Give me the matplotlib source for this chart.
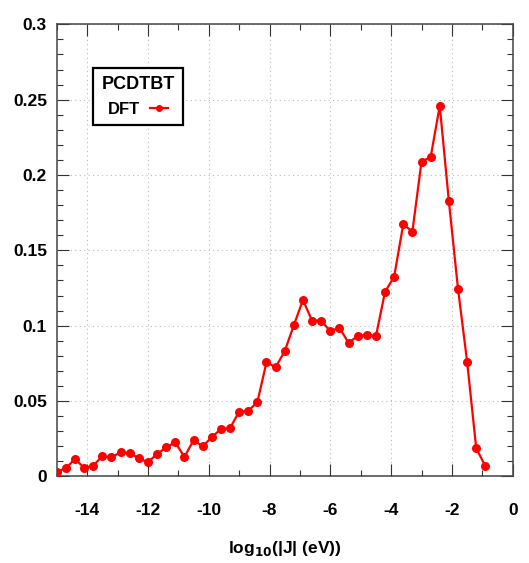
import matplotlib
matplotlib.use("Agg")
import matplotlib.pyplot as plt
from matplotlib.ticker import MultipleLocator

plt.rcParams['font.family'] = ['Liberation Sans Narrow', 'Liberation Sans', 'DejaVu Sans']
plt.rcParams['font.weight'] = 'bold'
plt.rcParams['mathtext.default'] = 'bf'

# log10 coupling bins and DFT distribution
log_j = [-15.0, -14.7, -14.4, -14.1, -13.8, -13.5, -13.2, -12.9, -12.6, -12.3,
         -12.0, -11.7, -11.4, -11.1, -10.8, -10.5, -10.2, -9.9, -9.6, -9.3,
         -9.0, -8.7, -8.4, -8.1, -7.8, -7.5, -7.2, -6.9, -6.6, -6.3,
         -6.0, -5.7, -5.4, -5.1, -4.8, -4.5, -4.2, -3.9, -3.6, -3.3,
         -3.0, -2.7, -2.4, -2.1, -1.8, -1.5, -1.2, -0.9]
dft = [0.0030, 0.0053, 0.0115, 0.0057, 0.0070, 0.0134, 0.0125, 0.0160, 0.0154, 0.0120,
       0.0093, 0.0148, 0.0192, 0.0226, 0.0128, 0.0239, 0.0199, 0.0259, 0.0314, 0.0319,
       0.0429, 0.0435, 0.0491, 0.0757, 0.0724, 0.0830, 0.1003, 0.1170, 0.1033, 0.1033,
       0.0963, 0.0987, 0.0885, 0.0932, 0.0938, 0.0930, 0.1224, 0.1325, 0.1673, 0.1624,
       0.2089, 0.2118, 0.2459, 0.1826, 0.1246, 0.0761, 0.0186, 0.0068]

fig = plt.figure(figsize=(5.29, 5.63), dpi=100)
ax = fig.add_axes([0.1072, 0.1540, 0.8620, 0.8028])

ax.plot(log_j, dft, color='#ff0000', lw=1.6, marker='o', ms=6.5,
        markeredgewidth=0, label='DFT', zorder=3)

ax.set_xlim(-15, 0)
ax.set_ylim(0, 0.3)
ax.xaxis.set_minor_locator(MultipleLocator(1))
ax.yaxis.set_minor_locator(MultipleLocator(0.01))
ax.set_yticks([0, 0.05, 0.1, 0.15, 0.2, 0.25, 0.3])
ax.set_yticklabels(['0', '0.05', '0.1', '0.15', '0.2', '0.25', '0.3'])
ax.set_xticks([-14, -12, -10, -8, -6, -4, -2, 0])
ax.set_xticklabels(['-14', '-12', '-10', '-8', '-6', '-4', '-2', '0'])

ax.tick_params(which='both', direction='in', top=True, right=True,
               color='#333333', width=0.8, labelsize=12.5)
ax.tick_params(which='major', length=8.6)
ax.tick_params(which='minor', length=4.3)
ax.tick_params(axis='x', pad=19)
ax.tick_params(axis='y', pad=7)
for s in ax.spines.values():
    s.set_color('#444444')
    s.set_linewidth(1.1)

ax.grid(True, which='major', color='#bbbbbb', linestyle=(0, (1, 3)), lw=0.8)

ax.set_xlabel('log$_{10}$(|J| (eV))', fontsize=12.5, fontweight='bold', labelpad=15)

leg = ax.legend(title='PCDTBT', loc='upper left', bbox_to_anchor=(0.080, 0.903),
                borderaxespad=0, fontsize=12, title_fontsize=13, markerfirst=False,
                handlelength=1.1, handletextpad=0.6, borderpad=0.5,
                fancybox=False, framealpha=1, edgecolor='black')
leg.get_frame().set_linewidth(1.6)
leg.get_title().set_fontweight('bold')
for line in leg.get_lines():
    line.set_markersize(5)

fig.savefig('out.png', dpi=100)
